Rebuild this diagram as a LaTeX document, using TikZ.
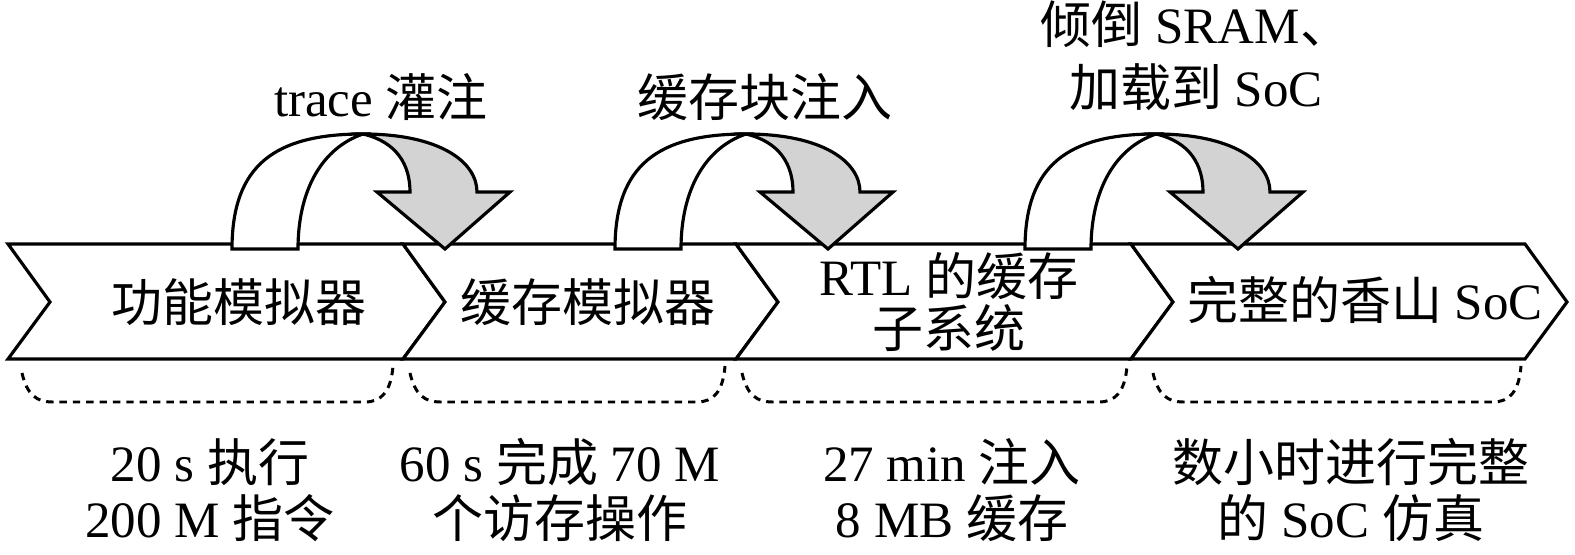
\documentclass[tikz,border=0pt]{standalone}
\usepackage{fontspec}
\setmainfont{Liberation Serif}
\newfontfamily\cjk{Noto Sans CJK SC}
\newcommand{\zh}[1]{{\cjk #1}}
\definecolor{hui}{RGB}{211,211,211}
\tikzset{
	kuang/.style={draw=black, fill=white, line width=0.9pt, line join=miter},
	xu/.style={draw=black, line width=0.85pt, dash pattern=on 2.1pt off 1.7pt},
	wz/.style={font=\fontsize{14.5}{15.9}\selectfont, inner sep=0pt, align=center}
}
% 箭头框
\newcommand{\jtk}[2]
{
	\draw[kuang] (#1,244) -- (#2,244) -- (#2+42,302) -- (#2,359) -- (#1,359) -- (#1+42,302) -- cycle;
}
% 弯箭头
\newcommand{\wjt}[1]
{
	\draw[kuang, fill=hui] (#1+363,134) .. controls (#1+440,134) and (#1+477,162) .. (#1+477,192) -- (#1+510,192) -- (#1+445,249) -- (#1+377,192) -- (#1+410,192) .. controls (#1+410,165) and (#1+397,142) .. (#1+363,134) -- cycle;
	\draw[kuang] (#1+232,249) .. controls (#1+232,165) and (#1+275,134) .. (#1+363,134) .. controls (#1+322,148) and (#1+298,190) .. (#1+298,249) -- cycle;
}
% 虚线
\newcommand{\xk}[2]
{
	\draw[xu] (#1,373) .. controls (#1+5,395) and (#1+15,402) .. (#1+30,402) -- (#2-28,402) .. controls (#2-12,402) and (#2-2,392) .. (#2,366);
}

\begin{document}
\begin{tikzpicture}[x=0.01cm, y=-0.01cm]
	\useasboundingbox (0,0) rectangle (1575,555);
	\jtk{8}{403}
	\jtk{403}{736}
	\jtk{736}{1131}
	\jtk{1131}{1525}
	\wjt{0}
	\wjt{383}
	\wjt{793}
	\xk{22}{393}
	\xk{410}{725}
	\xk{742}{1127}
	\xk{1153}{1521}
	\node[wz] (gnmn) at (239,302) {\zh{功能模拟器}};
	\node[wz] (hcmn) at (588,302) {\zh{缓存模拟器}};
	\node[wz, font=\fontsize{14.5}{14.8}\selectfont] (rtl) at (949,302) {RTL \zh{的缓存}\\\zh{子系统}};
	\node[wz] (soc) at (1365,300) {\zh{完整的香山} SoC};
	\node[wz] (trace) at (381,97) {trace \zh{灌注}};
	\node[wz] (hckzr) at (765,97) {\zh{缓存块注入}};
	\node[wz, font=\fontsize{14.5}{17.9}\selectfont] (sram) at (1196,56) {\zh{倾倒} SRAM\zh{、}\\\zh{加载到} SoC};
	\node[wz] (sj1) at (210,490) {20 s \zh{执行}\\200 M \zh{指令}};
	\node[wz] (sj2) at (560,490) {60 s \zh{完成} 70 M\\\zh{个访存操作}};
	\node[wz] (sj3) at (952,490) {27 min \zh{注入}\\8 MB \zh{缓存}};
	\node[wz] (sj4) at (1351,490) {\zh{数小时进行完整}\\\zh{的} SoC \zh{仿真}};
\end{tikzpicture}
\end{document}
